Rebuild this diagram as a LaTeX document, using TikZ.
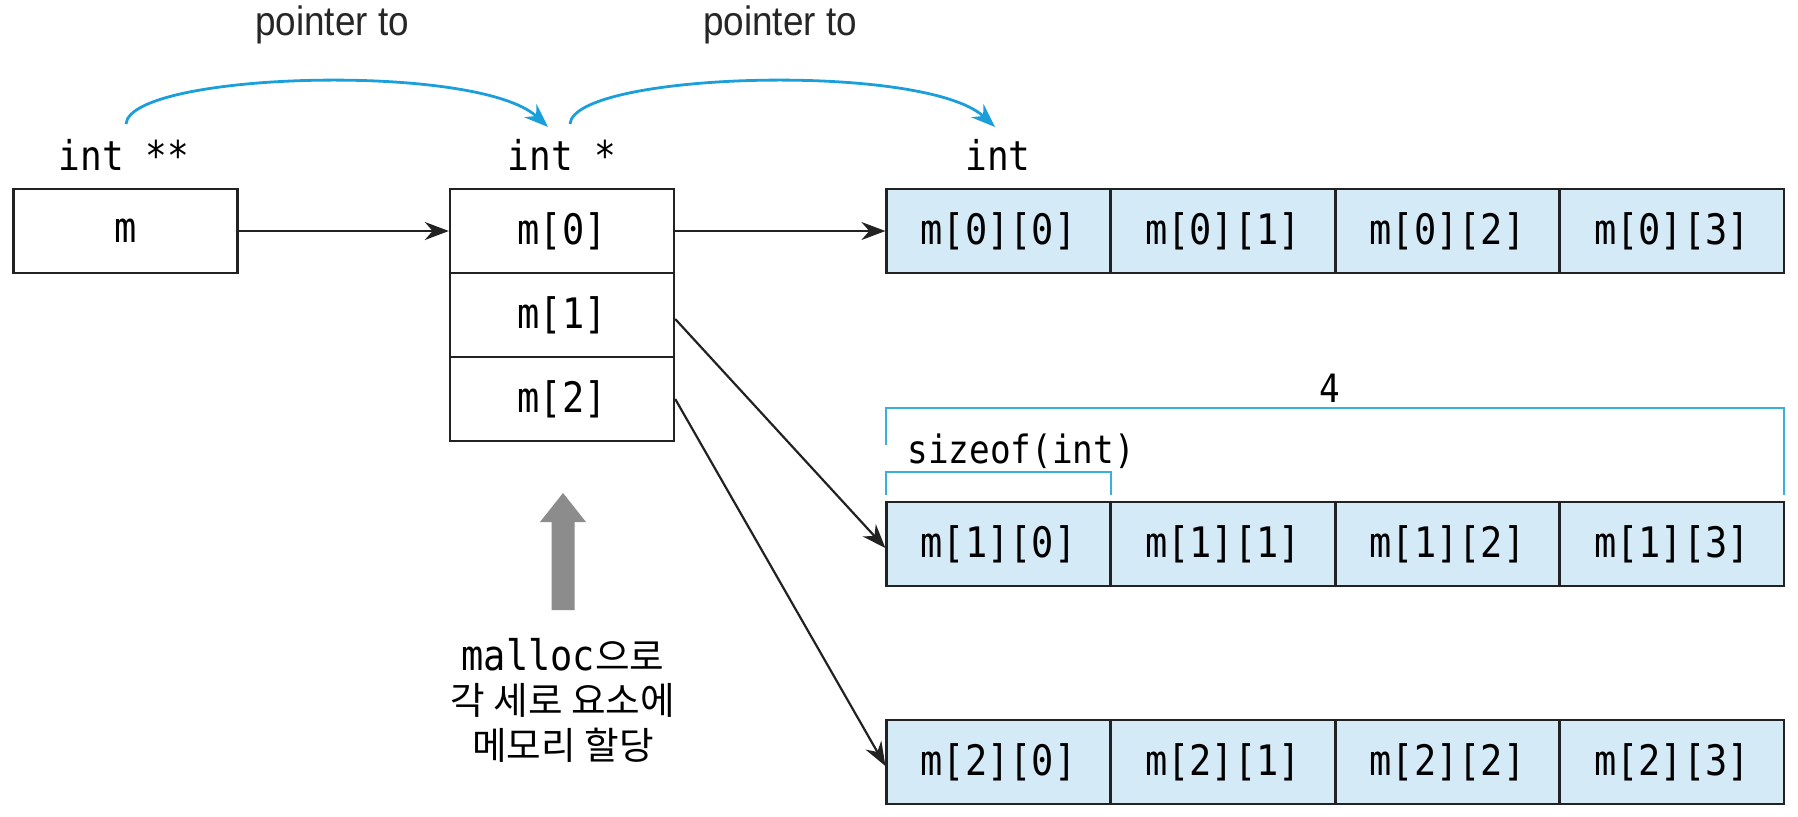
\documentclass[tikz,border=0pt]{standalone}
\usepackage{fontspec}
\setmainfont{Liberation Sans}
\newfontfamily\monof[FakeStretch=0.88]{DejaVu Sans Mono}
\newfontfamily\ptf[FakeStretch=0.9]{Liberation Sans}
\newfontfamily\krf{Noto Sans CJK KR}
\usetikzlibrary{arrows.meta}
\definecolor{cellblue}{HTML}{D5EAF7}
\definecolor{arcblue}{HTML}{1A9FDB}
\definecolor{brkblue}{HTML}{3AAFD9}
\definecolor{grayarrow}{HTML}{8C8C8C}
\definecolor{linegray}{HTML}{222222}
\tikzset{
  box/.style={draw=linegray, line width=1.2pt, minimum width=112pt, minimum height=42pt, inner sep=0pt, font=\monof\fontsize{21}{24}\selectfont},
  cell/.style={box, fill=cellblue},
  typelbl/.style={inner sep=0pt, font=\monof\fontsize{20.5}{24}\selectfont},
  arr/.style={draw=linegray, line width=1.1pt, -{Stealth[length=12pt, width=9pt]}},
  arcarr/.style={draw=arcblue, line width=1.4pt, -{Stealth[length=12pt, width=9pt]}},
  brk/.style={draw=brkblue, line width=0.8pt},
  ptlbl/.style={inner sep=0pt, font=\ptf\fontsize{20.5}{24}\selectfont, text=black!85},
}
\begin{document}
\begin{tikzpicture}[x=0.5pt,y=-0.5pt]
\useasboundingbox (0,0) rectangle (1798,816);
% boxes
\node[box] (m) at (125.6,231) {m};
\node[box] (m0) at (562,231) {m[0]};
\node[box] (m1) at (562,315) {m[1]};
\node[box] (m2) at (562,399) {m[2]};
\foreach \r/\y in {0/231,1/544,2/762}{
  \node[cell] (r\r0) at (998.6,\y) {m[\r][0]};
  \node[cell] (r\r1) at (1223.1,\y) {m[\r][1]};
  \node[cell] (r\r2) at (1447.6,\y) {m[\r][2]};
  \node[cell] (r\r3) at (1672.1,\y) {m[\r][3]};
}
% type labels
\node[typelbl] (t2) at (124,155) {int **};
\node[typelbl] (t1) at (562,155) {int *};
\node[typelbl] (t0) at (998,155) {int};
% pointer-to labels
\node[ptlbl] (p1) at (332,25) {pointer to};
\node[ptlbl] (p2) at (780,25) {pointer to};
% arcs
\coordinate (a1s) at (126,124);
\coordinate (a1e) at (548,127);
\coordinate (a2s) at (570,124);
\coordinate (a2e) at (995,127);
\draw[arcarr] (a1s) .. controls (130,72) and (478,62) .. (a1e);
\draw[arcarr] (a2s) .. controls (574,72) and (925,62) .. (a2e);
% black arrows
\draw[arr] (m.east) -- (m0.west);
\draw[arr] (m0.east) -- (r00.west);
\draw[arr] ([yshift=-2pt]m1.east) -- ([yshift=-2pt]r10.west);
\draw[arr] (m2.east) -- ([yshift=-2pt]r20.west);
% brackets
\draw[brk] (886,445) -- (886,408) -- (1784,408) -- (1784,495);
\draw[brk] (886,495) -- (886,472) -- (1111,472) -- (1111,495);
\node[typelbl, font=\monof\fontsize{19.5}{22}\selectfont] (four) at (1330,388) {4};
\node[typelbl, font=\monof\fontsize{19.5}{22}\selectfont, anchor=west] (szof) at (907,451) {sizeof(int)};
% gray block arrow
\fill[grayarrow] (563,493) -- (586,522) -- (574.5,522) -- (574.5,610) -- (551.5,610) -- (551.5,522) -- (540,522) -- cycle;
% Korean text
\node[inner sep=0pt, align=center, font=\krf\fontsize{18.8}{22.3}\selectfont] (kr) at (563,700) {{\monof\fontsize{21}{22.3}\selectfont malloc}으로\\각 세로 요소에\\메모리 할당};
\end{tikzpicture}
\end{document}
